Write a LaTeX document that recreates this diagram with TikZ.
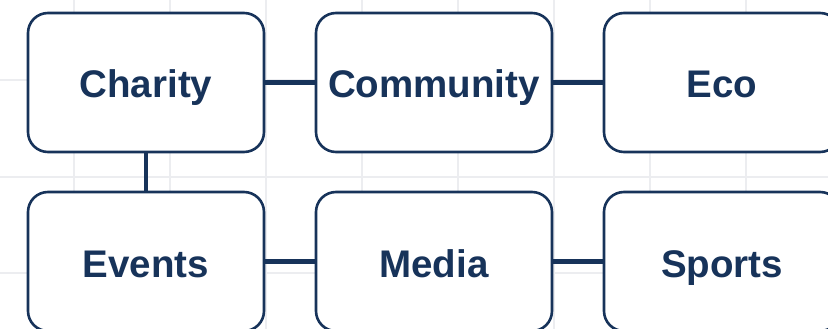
\documentclass[tikz,border=0pt]{standalone}
\usepackage{fontspec}
\setmainfont{Liberation Sans}
\definecolor{navy}{HTML}{17335A}
\definecolor{gridc}{HTML}{ECEDF0}
\begin{document}
\begin{tikzpicture}[x=1pt,y=-1pt,
  boxnode/.style={draw=navy, line width=2.6pt, fill=white, rounded corners=20pt,
    minimum width=236pt, minimum height=139pt, inner sep=0pt,
    text height=31pt, text depth=0pt,
    text=navy, font=\fontsize{38.5}{46}\selectfont\bfseries},
  link/.style={draw=navy, line width=4.5pt}]
\useasboundingbox (0,0) rectangle (828,329);
\begin{scope}
\clip (0,0) rectangle (828,329);
\foreach \gx in {74,170,266,362,458,554,650,746}
  \draw[gridc, line width=1.5pt] (\gx,0) -- (\gx,329);
\foreach \gy in {80,177,273}
  \draw[gridc, line width=1.5pt] (0,\gy) -- (828,\gy);
\node[boxnode] (charity) at (146,82.5) {Charity};
\node[boxnode] (community) at (434,82.5) {Community};
\node[boxnode] (eco) at (722,82.5) {Eco};
\node[boxnode] (events) at (146,261.5) {Events};
\node[boxnode] (media) at (434,261.5) {Media};
\node[boxnode] (sports) at (722,261.5) {Sports};
\end{scope}
\draw[link] (charity) -- (community);
\draw[link] (community) -- (eco);
\draw[link] (charity) -- (events);
\draw[link] (events) -- (media);
\draw[link] (media) -- (sports);
\end{tikzpicture}
\end{document}
